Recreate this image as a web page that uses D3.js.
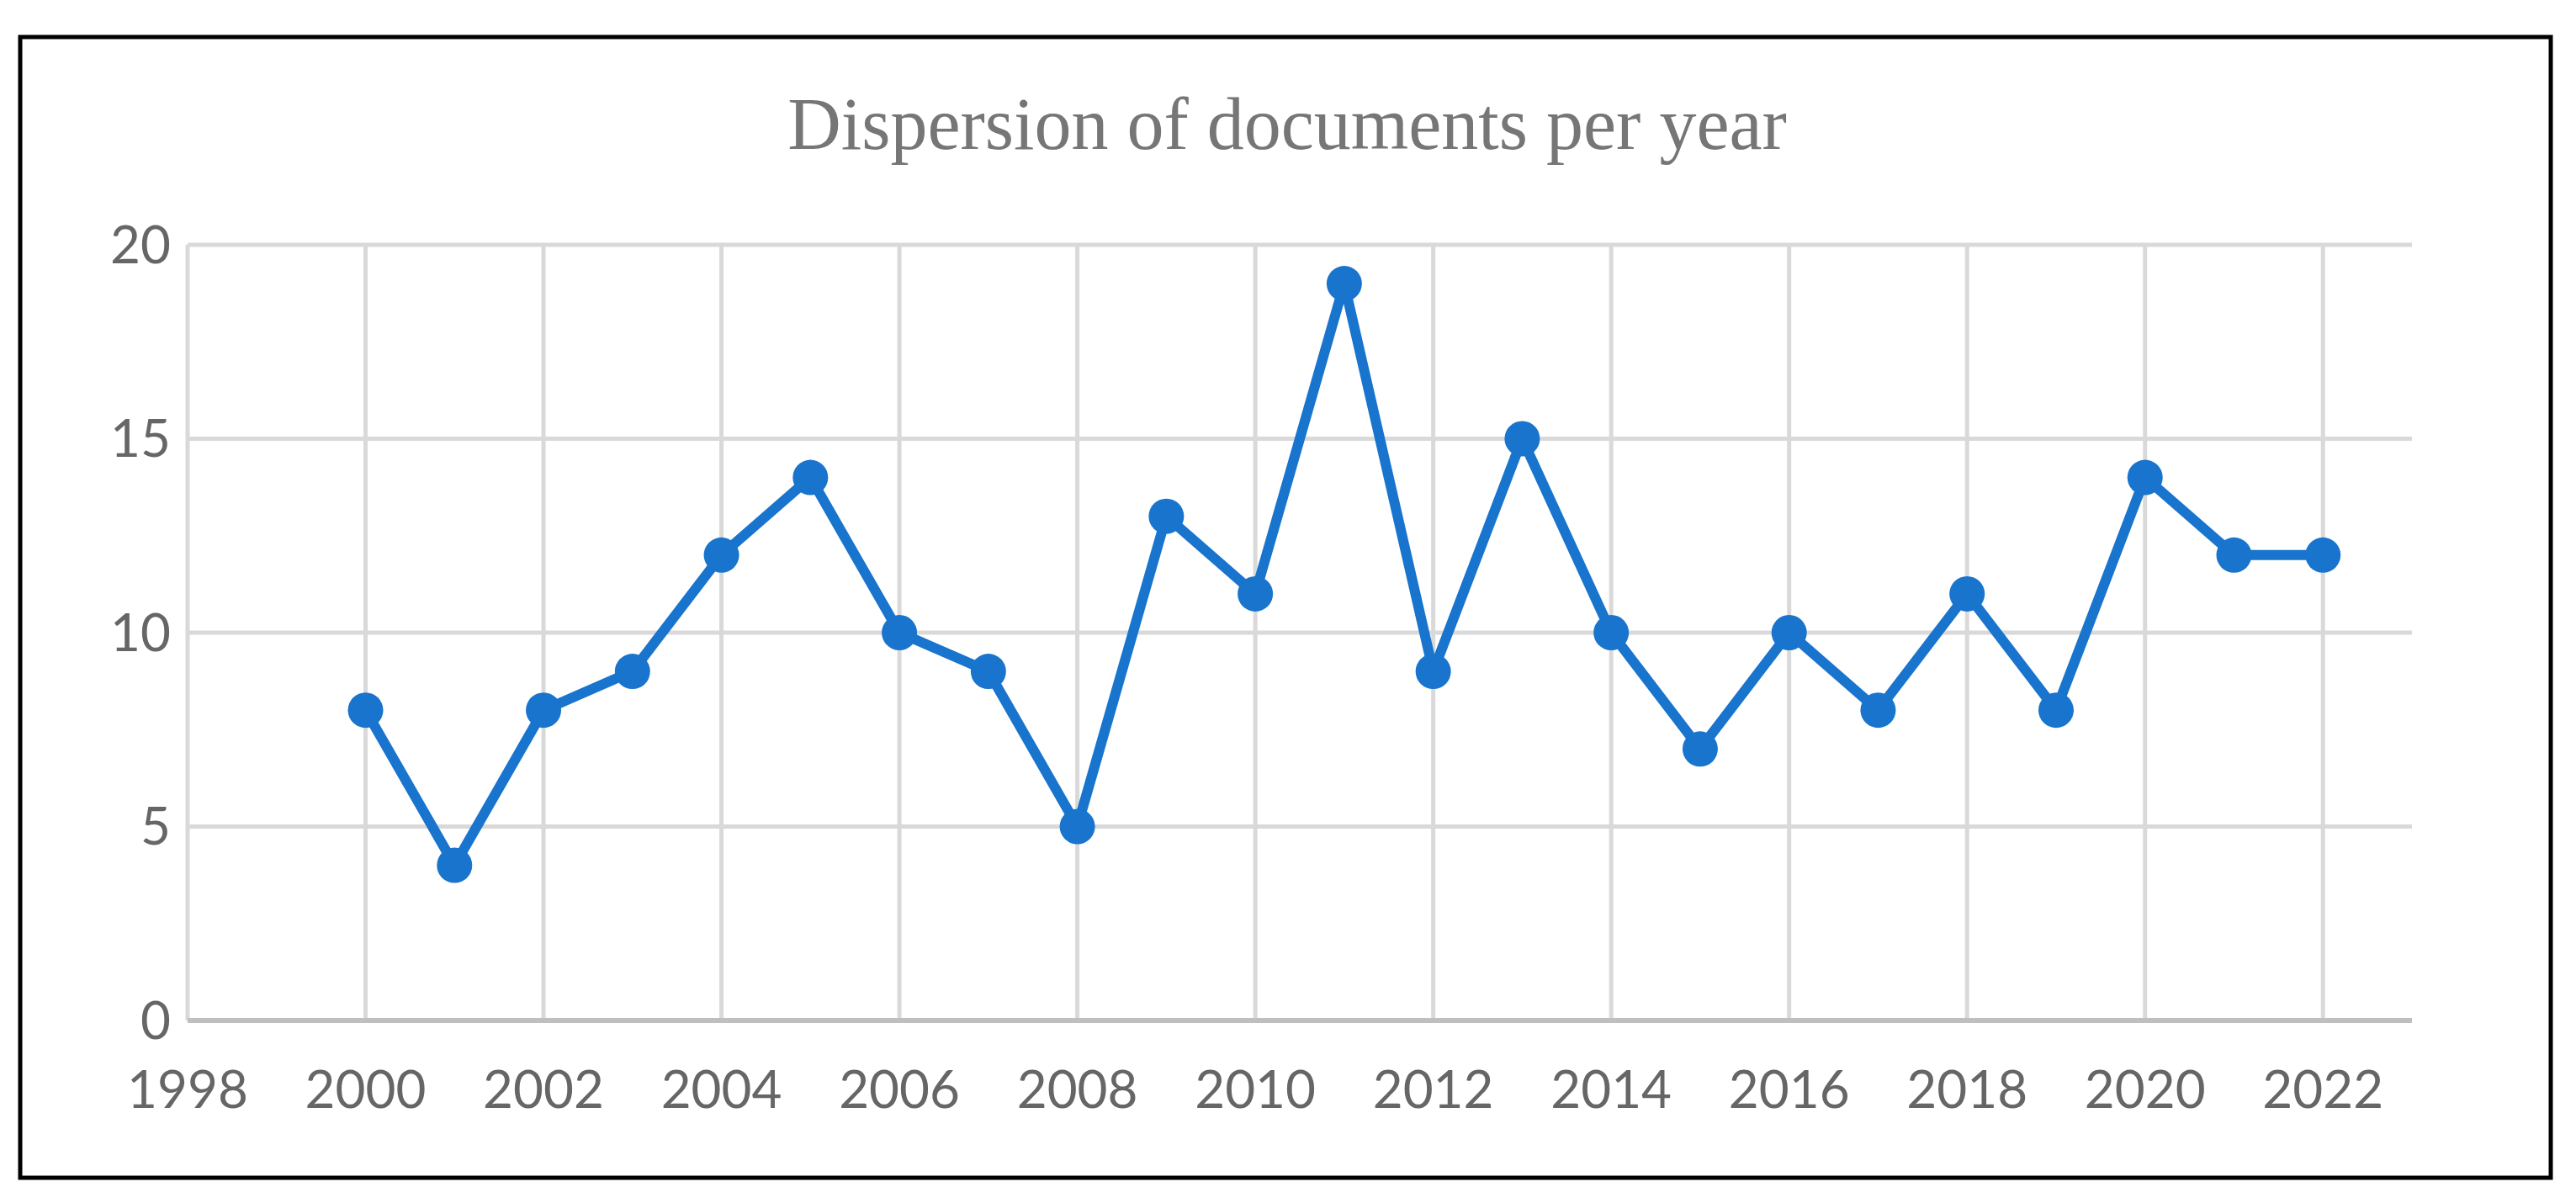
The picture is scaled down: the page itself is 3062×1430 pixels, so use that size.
<!DOCTYPE html>
<html><head><meta charset="utf-8">
<script src="https://cdn.jsdelivr.net/npm/d3@7"></script>
<style>body{margin:0;background:#fff}</style>
</head><body>
<script>
const years = [2000,2001,2002,2003,2004,2005,2006,2007,2008,2009,2010,2011,2012,2013,2014,2015,2016,2017,2018,2019,2020,2021,2022];
const docs = [8,4,8,9,12,14,10,9,5,13,11,19,9,15,10,7,10,8,11,8,14,12,12];
const xTicks = [1998,2000,2002,2004,2006,2008,2010,2012,2014,2016,2018,2020,2022];
const yTicks = [0,5,10,15,20];
const title = 'Dispersion of documents per year';

const W = 3062, H = 1430;
const svg = d3.select('body').append('svg').attr('width', W).attr('height', H);
svg.append('rect').attr('x', 24).attr('y', 44).attr('width', 3008).attr('height', 1356)
  .attr('fill', '#fff').attr('stroke', '#000').attr('stroke-width', 5);

const x = d3.scaleLinear().domain([1998, 2023]).range([223, 2867]);
const y = d3.scaleLinear().domain([0, 20]).range([1213, 291]);

const grid = svg.append('g').attr('stroke', '#d9d9d9').attr('stroke-width', 5);
grid.selectAll('.h').data(yTicks.filter(d => d > 0)).join('line')
  .attr('x1', x(1998)).attr('x2', x(2023)).attr('y1', y).attr('y2', y);
grid.selectAll('.v').data(xTicks).join('line')
  .attr('x1', x).attr('x2', x).attr('y1', y(20)).attr('y2', y(0));
svg.append('line').attr('x1', x(1998)).attr('x2', x(2023)).attr('y1', y(0)).attr('y2', y(0))
  .attr('stroke', '#bfbfbf').attr('stroke-width', 6);

const font = 'Lato, "Open Sans", sans-serif';
svg.append('g').selectAll('text').data(yTicks).join('text')
  .attr('x', 203).attr('y', d => y(d)).attr('dy', '0.35em').attr('text-anchor', 'end')
  .attr('font-family', font).attr('font-size', 62).attr('fill', '#666').text(d => d);
svg.append('g').selectAll('text').data(xTicks).join('text')
  .attr('x', x).attr('y', 1295).attr('dy', '0.35em').attr('text-anchor', 'middle')
  .attr('font-family', font).attr('font-size', 62).attr('fill', '#666').text(d => d);

svg.append('text').attr('x', 1530).attr('y', 146).attr('dy', '0.35em').attr('text-anchor', 'middle')
  .attr('font-family', '"Liberation Serif", "DejaVu Serif", serif').attr('font-size', 88)
  .attr('fill', '#767676').text(title);

const pts = years.map((yr, i) => [yr, docs[i]]);
svg.append('path').datum(pts)
  .attr('d', d3.line().x(d => x(d[0])).y(d => y(d[1])))
  .attr('fill', 'none').attr('stroke', '#1874cd').attr('stroke-width', 12).attr('stroke-linejoin', 'round');
svg.append('g').selectAll('circle').data(pts).join('circle')
  .attr('cx', d => x(d[0])).attr('cy', d => y(d[1])).attr('r', 21).attr('fill', '#1874cd');
</script>
</body></html>
